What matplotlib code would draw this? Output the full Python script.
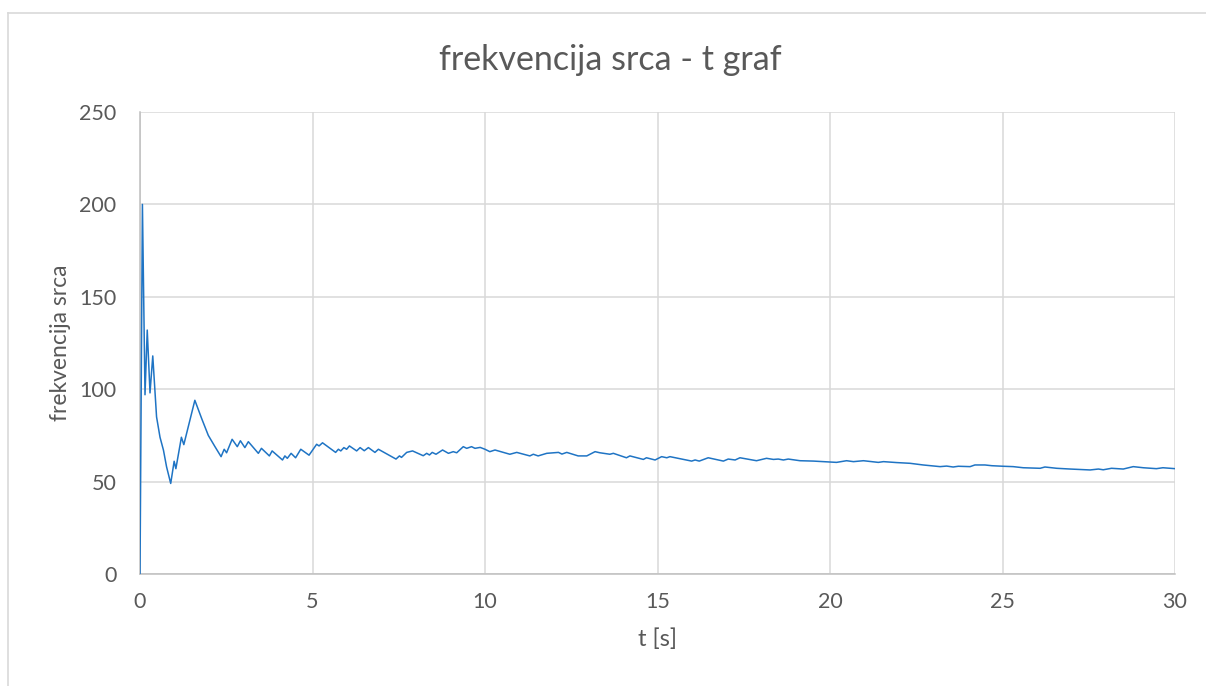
import matplotlib
matplotlib.use("Agg")
import matplotlib.pyplot as plt
from matplotlib.lines import Line2D

# time [s] and heart rate readings
t_s = [
    0.00, 0.07, 0.145, 0.21, 0.29, 0.37, 0.48, 0.58, 0.68, 0.77, 0.89, 0.99,
    1.04, 1.20, 1.27, 1.59, 1.79, 1.98, 2.17, 2.35, 2.44, 2.51, 2.67, 2.82,
    2.91, 3.04, 3.14, 3.43, 3.52, 3.75, 3.83, 4.13, 4.20, 4.27, 4.38, 4.51,
    4.66, 4.90, 5.12, 5.19, 5.29, 5.67, 5.75, 5.82, 5.91, 5.99, 6.07, 6.28,
    6.38, 6.50, 6.62, 6.81, 6.91, 7.42, 7.52, 7.58, 7.73, 7.90, 8.21, 8.31,
    8.39, 8.47, 8.58, 8.77, 8.94, 9.08, 9.18, 9.37, 9.47, 9.61, 9.71, 9.86,
    10.00, 10.14, 10.29, 10.72, 10.92, 11.30, 11.40, 11.54, 11.79, 12.13,
    12.23, 12.37, 12.70, 12.95, 13.19, 13.33, 13.62, 13.72, 14.10, 14.20,
    14.59, 14.68, 14.93, 15.12, 15.27, 15.36, 15.99, 16.09, 16.21, 16.47,
    16.91, 17.05, 17.25, 17.39, 17.87, 18.16, 18.36, 18.50, 18.65, 18.79,
    19.13, 19.52, 19.81, 20.19, 20.48, 20.68, 20.97, 21.40, 21.55, 21.93,
    22.32, 22.70, 23.19, 23.38, 23.57, 23.72, 24.06, 24.20, 24.49, 24.69,
    25.02, 25.31, 25.60, 26.09, 26.23, 26.57, 26.96, 27.54, 27.78, 27.92,
    28.16, 28.50, 28.79, 29.08, 29.46, 29.65, 30.00,
]
heart_rate = [
    0, 200, 97, 132, 98, 118, 85, 74, 67, 58, 49, 61,
    57, 74, 70, 94, 84, 75, 69, 63.5, 67.5, 65.6, 72.9, 68.9,
    72.1, 68.4, 71.6, 65.3, 68, 63.9, 66.6, 61.7, 63.9, 62.6, 65.3, 62.9,
    67.5, 64.3, 70.2, 69.3, 71, 65.8, 67.5, 66.6, 68.4, 67.5, 69.3, 66.6,
    68.4, 66.7, 68.4, 65.8, 67.5, 62.2, 63.9, 63.1, 65.8, 66.6, 64, 65.3,
    64.4, 65.8, 64.8, 67.1, 65.3, 66.2, 65.6, 68.9, 68, 68.9, 68, 68.5,
    67.5, 66.2, 67.1, 64.8, 65.8, 63.9, 64.8, 63.9, 65.3, 65.8,
    64.9, 65.8, 63.9, 63.9, 66.2, 65.6, 64.8, 65.3, 62.9, 63.9,
    62, 62.9, 61.7, 63.5, 62.9, 63.5, 61.1, 61.7, 61.1, 62.9,
    61.1, 62.2, 61.7, 62.9, 61.3, 62.6, 62, 62.2, 61.7, 62.2,
    61.3, 61.1, 60.8, 60.4, 61.3, 60.8, 61.3, 60.4, 60.8, 60.3,
    59.9, 59, 58.1, 58.4, 57.9, 58.3, 58.1, 59, 59, 58.6,
    58.3, 58.1, 57.5, 57.2, 57.9, 57.2, 56.8, 56.3, 56.8, 56.4,
    57.2, 56.8, 58.1, 57.5, 57, 57.5, 57,
]
x_ticks = [0, 5, 10, 15, 20, 25, 30]
y_ticks = [0, 50, 100, 150, 200, 250]

GRID = "#d9d9d9"
TEXT = "#595959"
FONT = "Lato"

fig = plt.figure(figsize=(12.06, 6.86), dpi=100)
W, H = 1206, 686

# light chart-area frame
fig.add_artist(Line2D([7.5 / W, 7.5 / W], [0, 1 - 12.5 / H], color=GRID, lw=1.2))
fig.add_artist(Line2D([7.5 / W, 1], [1 - 12.5 / H, 1 - 12.5 / H], color=GRID, lw=1.2))

ax = fig.add_axes([140 / W, 1 - 574 / H, (1175 - 140) / W, (574 - 112) / H])
ax.plot(t_s, heart_rate, color="#1f74c4", lw=1.1, zorder=3)

ax.set_xlim(0, 30)
ax.set_ylim(0, 250)
ax.set_xticks(x_ticks)
ax.set_yticks(y_ticks)
ax.grid(True, color=GRID, lw=1.1)
ax.set_axisbelow(True)
for side in ("top", "right"):
    ax.spines[side].set_visible(False)
for side in ("left", "bottom"):
    ax.spines[side].set_color("#bfbfbf")
    ax.spines[side].set_linewidth(1.1)
ax.tick_params(axis="y", length=0, pad=17, labelsize=15.5, labelcolor=TEXT)
ax.tick_params(axis="x", length=0, pad=13, labelsize=15.5, labelcolor=TEXT)
for lbl in ax.get_xticklabels() + ax.get_yticklabels():
    lbl.set_fontfamily(FONT)

ax.set_xlabel("t [s]", fontsize=17, color=TEXT, family=FONT, labelpad=12)
ax.set_ylabel("frekvencija srca", fontsize=16.5, color=TEXT, family=FONT, labelpad=6)
fig.text(610 / W, 1 - 60 / H, "frekvencija srca - t graf", ha="center", va="center",
         fontsize=24.5, color=TEXT, family=FONT)

fig.savefig("out.png", dpi=100, facecolor="white")
